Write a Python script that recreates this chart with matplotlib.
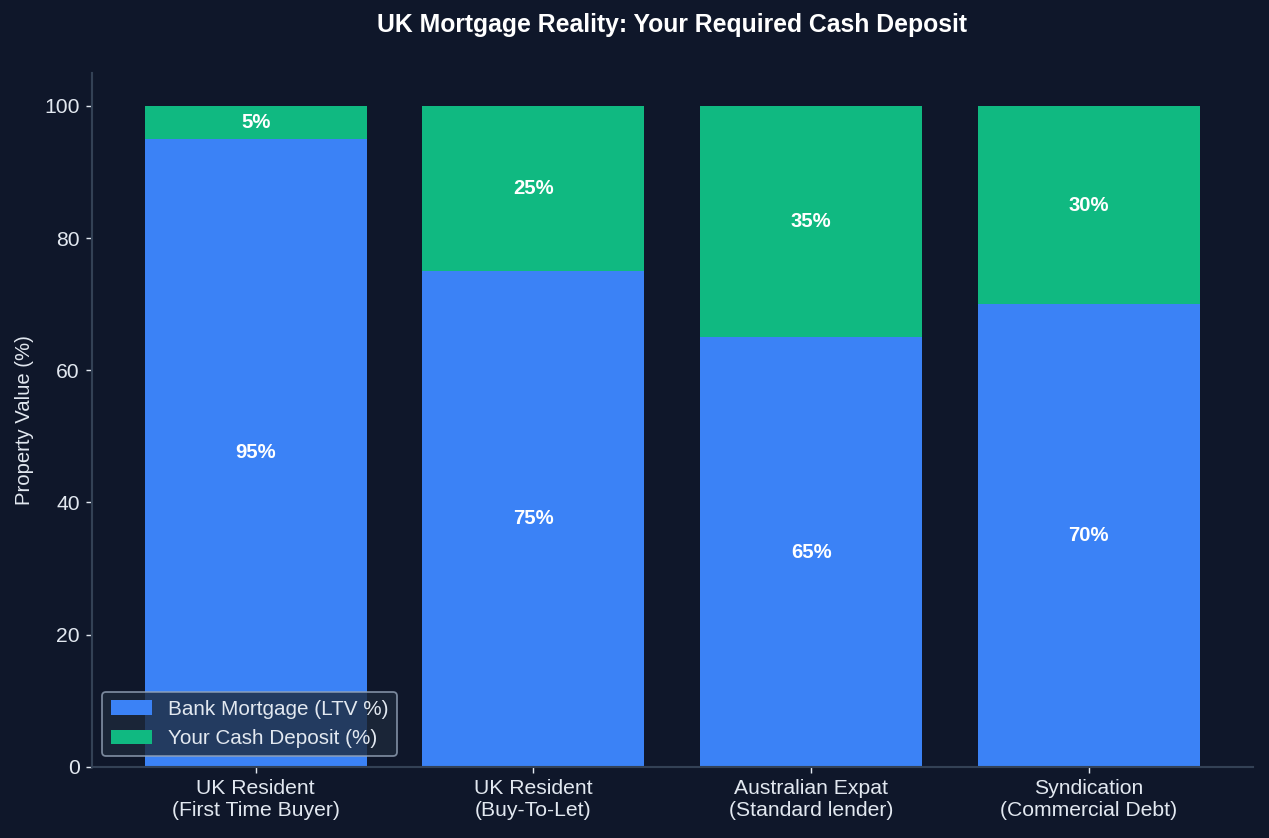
import matplotlib.pyplot as plt
import numpy as np

categories = ["UK Resident\n(First Time Buyer)", "UK Resident\n(Buy-To-Let)",
              "Australian Expat\n(Standard lender)", "Syndication\n(Commercial Debt)"]
mortgage_ltv = [95, 75, 65, 70]
cash_deposit = [5, 25, 35, 30]

BG = "#0f172a"
TEXT = "#e2e8f0"
SPINE = "#334155"

plt.rcParams["font.family"] = ["Liberation Sans", "DejaVu Sans"]

fig, ax = plt.subplots(figsize=(1269 / 127, 838 / 127), dpi=127)
fig.patch.set_facecolor(BG)
ax.set_facecolor(BG)

x = np.arange(len(categories))
b1 = ax.bar(x, mortgage_ltv, width=0.8, color="#3b82f6", label="Bank Mortgage (LTV %)")
b2 = ax.bar(x, cash_deposit, width=0.8, bottom=mortgage_ltv, color="#10b981",
            label="Your Cash Deposit (%)")

for bars, vals in ((b1, mortgage_ltv), (b2, cash_deposit)):
    ax.bar_label(bars, labels=[f"{v}%" for v in vals], label_type="center",
                 color="white", fontsize=11.5, fontweight="bold")

ax.set_xticks(x)
ax.set_xticklabels(categories)
ax.set_ylabel("Property Value (%)", color=TEXT, fontsize=11.5, labelpad=6)
ax.set_title("UK Mortgage Reality: Your Required Cash Deposit", color="white",
             fontsize=14, fontweight="bold", pad=23)

ax.tick_params(colors=TEXT, labelsize=12)
for side in ("top", "right"):
    ax.spines[side].set_visible(False)
for side in ("left", "bottom"):
    ax.spines[side].set_color(SPINE)
    ax.spines[side].set_linewidth(1.2)

leg = ax.legend(loc="lower left", fontsize=11.7, facecolor="#1e293b", edgecolor="#94a3b8",
                framealpha=0.8, labelcolor=TEXT)

fig.subplots_adjust(left=0.0725, right=0.987, top=0.913, bottom=0.085)
fig.savefig("out.png", dpi=127, facecolor=BG)
